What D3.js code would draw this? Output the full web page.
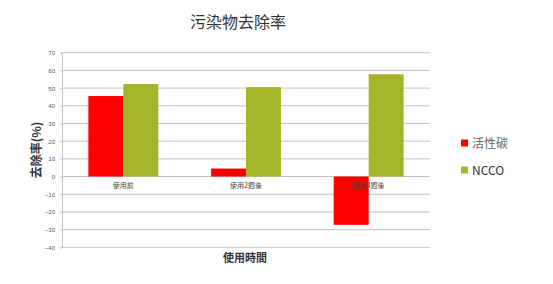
<!DOCTYPE html>
<html><head><meta charset="utf-8">
<script src="https://cdn.jsdelivr.net/npm/d3@7"></script>
<style>body{margin:0;background:#fff}svg{display:block}</style>
</head><body>
<svg id="c" width="553" height="284"></svg>
<script>
const categories = ["使用前", "使用2週後", "使用4週後"];
const seriesNames = ["活性碳", "NCCO"];
const carbonValues = [45.5, 4.5, -27.3];
const nccoValues = [52.3, 50.5, 57.8];
const yTicks = [70, 60, 50, 40, 30, 20, 10, 0, -10, -20, -30, -40];
const colors = ["#ff0000", "#a5b52a"];

(function () {
const svg = d3.select("#c");
const pLeft = 62, pRight = 430, pTop = 52.7, pBottom = 247.3;
const x = d3.scaleBand().domain(categories).range([pLeft, pRight]).paddingInner(0.43).paddingOuter(0.215);
const xs = d3.scaleBand().domain(seriesNames).range([0, x.bandwidth()]);
const y = d3.scaleLinear().domain([-40, 70]).range([pBottom, pTop]);

// gridlines
svg.append("g").selectAll("line").data(yTicks).join("line")
  .attr("x1", pLeft).attr("x2", pRight)
  .attr("y1", d => y(d)).attr("y2", d => y(d))
  .attr("stroke", "#c3c3c3").attr("stroke-width", 1);

// y axis
const yAxis = d3.axisLeft(y).tickValues(yTicks).tickSize(2).tickPadding(5).tickFormat(d3.format("d"));
const ga = svg.append("g").attr("transform", `translate(${pLeft},0)`).call(yAxis);
ga.select(".domain").attr("stroke", "#c3c3c3");
ga.selectAll(".tick line").attr("stroke", "#c3c3c3");
ga.selectAll(".tick text").attr("font-family", "Liberation Sans, sans-serif").attr("font-size", 6).attr("fill", "#555");

const data = categories.map((c, i) => ({c, vals: [carbonValues[i], nccoValues[i]]}));
const g = svg.append("g");
data.forEach(d => {
  d.vals.forEach((v, j) => {
    g.append("rect")
      .attr("x", x(d.c) + xs(seriesNames[j]))
      .attr("width", xs.bandwidth())
      .attr("y", y(Math.max(0, v)))
      .attr("height", Math.abs(y(v) - y(0)))
      .attr("fill", colors[j]);
  });
});

// category labels
svg.append("g").selectAll("text").data(categories).join("text")
  .attr("x", d => x(d) + x.bandwidth() / 2).attr("y", 188)
  .attr("text-anchor", "middle")
  .attr("font-family", "Noto Sans CJK TC, sans-serif").attr("font-size", 7).attr("fill", "#444")
  .text(d => d);

// title
svg.append("text").attr("x", 238).attr("y", 28).attr("text-anchor", "middle")
  .attr("font-family", "Noto Sans CJK TC, sans-serif").attr("font-size", 16).attr("fill", "#333")
  .text("污染物去除率");

// y title
svg.append("text").attr("transform", "translate(41,150) rotate(-90)").attr("text-anchor", "middle")
  .attr("font-family", "Noto Sans CJK TC, sans-serif").attr("font-size", 12).attr("font-weight", "bold").attr("fill", "#333")
  .text("去除率(%)");

// x title
svg.append("text").attr("x", 245).attr("y", 262).attr("text-anchor", "middle")
  .attr("font-family", "Noto Sans CJK TC, sans-serif").attr("font-size", 11).attr("font-weight", "bold").attr("fill", "#333")
  .text("使用時間");

// legend
const lg = svg.append("g");
seriesNames.forEach((s, i) => {
  const ly = 143 + i * 27;
  lg.append("rect").attr("x", 461).attr("y", ly - 3.5).attr("width", 7).attr("height", 7).attr("fill", colors[i]);
  lg.append("text").attr("x", 472).attr("y", ly + 4.5)
    .attr("font-family", "Noto Sans CJK TC, sans-serif").attr("font-size", 12)
    .attr("fill", i === 0 ? "#666" : "#333").text(s);
});
})();
</script>
</body></html>
